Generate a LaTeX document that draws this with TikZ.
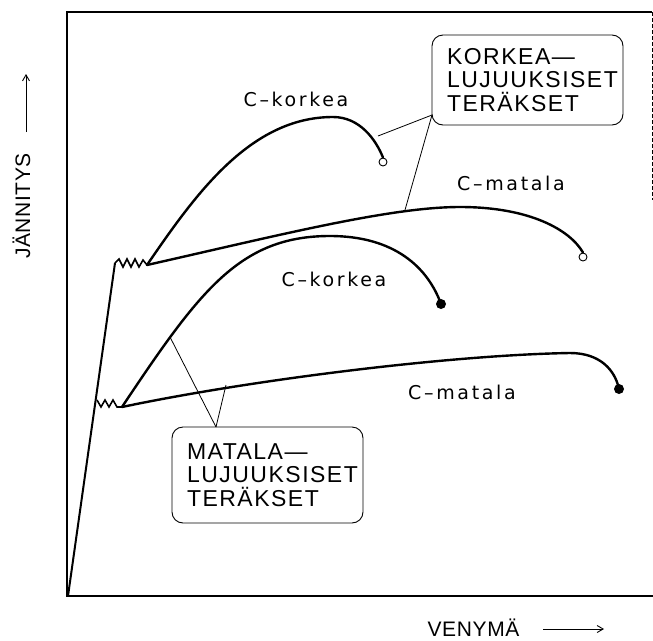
\documentclass[tikz,border=0pt]{standalone}
\usepackage{fontspec}
\setmainfont{Liberation Sans}
\newfontfamily\curvefont[LetterSpace=14]{DejaVu Sans}
\newfontfamily\boxfont[LetterSpace=6.5]{Liberation Sans}
\newfontfamily\axisfont[LetterSpace=3]{Liberation Sans}
\usetikzlibrary{arrows.meta}
\begin{document}
\begin{tikzpicture}[x=1pt,y=-1pt,
  frameline/.style={line width=1.8pt},
  curve/.style={line width=2.4pt,line join=round,line cap=round},
  leader/.style={line width=0.8pt},
  labelbox/.style={draw,line width=0.9pt,rounded corners=11pt,minimum width=191pt,text width=161pt,inner xsep=15pt,align=left,font=\boxfont\fontsize{23}{23.4}\selectfont},
  curvelabel/.style={font=\curvefont\fontsize{19}{21}\selectfont,inner sep=0pt},
  axislabel/.style={font=\axisfont\fontsize{21}{22}\selectfont,inner sep=0pt},
  axisarrow/.style={line width=0.9pt,-{Straight Barb[length=6pt,width=7pt]}}]
\useasboundingbox (0,0) rectangle (653,640);
% frame
\draw[frameline] (652,12) -- (67,12) -- (67,596) -- (653,596);
\draw[line width=0.6pt,dash pattern=on 4pt off 2pt] (652,12) -- (652,200);
% elastic line
\coordinate (O) at (68,596);
\coordinate (Y1) at (115,263);
\coordinate (Z1) at (147,265);
\coordinate (Z2) at (122,407);
\draw[line width=2pt] (O) -- (Y1);
% zigzags
\draw[line width=1.6pt,line join=miter] (Y1) -- (119,259) -- (123,267) -- (127,259) -- (131,267) -- (135,259) -- (139,267) -- (143,260) -- (Z1);
\draw[line width=1.6pt,line join=miter] (97,400) -- (101,407) -- (105,400) -- (109,407) -- (113,400) -- (117,407) -- (Z2);
% end markers
\node[draw,circle,line width=0.9pt,minimum size=8pt,inner sep=0pt] (e1) at (383,162) {};
\node[draw,circle,line width=0.9pt,minimum size=8pt,inner sep=0pt] (e2) at (583,257) {};
\node[fill,circle,minimum size=10pt,inner sep=0pt] (e3) at (441,304) {};
\node[fill,circle,minimum size=10pt,inner sep=0pt] (e4) at (619,389) {};
% upper C-korkea
\draw[curve] (Z1) .. controls (195,195) and (250,117) .. (333,117) .. controls (360,117) and (376,140) .. (e1.north);
% upper C-matala
\draw[curve] (Z1) .. controls (280,235) and (390,207) .. (460,207) .. controls (530,207) and (570,230) .. (e2.north);
% lower C-korkea
\draw[curve] (Z2) .. controls (200,290) and (240,236) .. (330,236) .. controls (395,236) and (428,268) .. (e3.center);
% lower C-matala
\draw[curve] (Z2) .. controls (250,380) and (450,355) .. (570,353) .. controls (600,353) and (615,370) .. (e4.center);
% curve labels
\node[curvelabel] (l1) at (296,99) {C–korkea};
\node[curvelabel] (l2) at (511,183) {C–matala};
\node[curvelabel] (l3) at (334,279) {C–korkea};
\node[curvelabel] (l4) at (462,392) {C–matala};
% boxes
\node[labelbox,minimum height=90pt] (kb) at (527.5,80) {KORKEA—\\LUJUUKSISET\\TERÄKSET};
\node[labelbox,minimum height=96pt] (mb) at (267.5,475) {MATALA—\\LUJUUKSISET\\TERÄKSET};
% leaders
\coordinate (kp) at (432,115);
\coordinate (k1) at (378,136);
\coordinate (k2) at (405,210);
\draw[leader] (kp) -- (k1);
\draw[leader] (kp) -- (k2);
\coordinate (mp) at (216,427);
\coordinate (m1) at (170,337);
\coordinate (m2) at (226,385);
\draw[leader] (mp) -- (m1);
\draw[leader] (mp) -- (m2);
% axis labels
\node[axislabel,rotate=90] (yl) at (21.5,206) {JÄNNITYS};
\coordinate (ya) at (26,132);
\coordinate (yb) at (26,74);
\draw[axisarrow] (ya) -- (yb);
\node[axislabel] (xl) at (473.5,628) {VENYMÄ};
\coordinate (xa) at (543,629);
\coordinate (xb) at (604,629);
\draw[axisarrow] (xa) -- (xb);
\end{tikzpicture}
\end{document}
